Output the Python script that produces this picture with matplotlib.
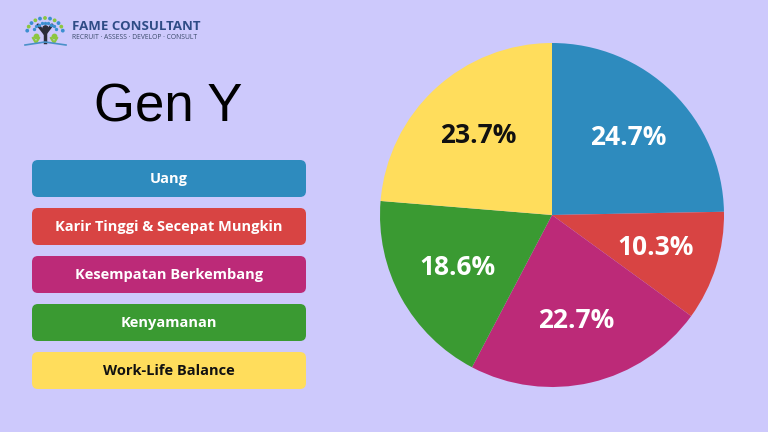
import matplotlib.pyplot as plt
from matplotlib.patches import FancyBboxPatch
import numpy as np

# data
categories = ['Uang', 'Karir Tinggi & Secepat Mungkin', 'Kesempatan Berkembang',
              'Kenyamanan', 'Work-Life Balance']
values = [24.7, 10.3, 22.7, 18.6, 23.7]
colors = ['#2E8BBE', '#D84443', '#BC2A78', '#3A9A32', '#FFDD5C']
text_colors = ['white', 'white', 'white', 'white', '#111111']

bg = '#CDC9FC'
W, H = 768, 432

fig = plt.figure(figsize=(7.68, 4.32), dpi=100)
fig.patch.set_facecolor(bg)

# pixel-space canvas for the left side
ax = fig.add_axes([0, 0, 1, 1])
ax.set_xlim(0, W)
ax.set_ylim(H, 0)
ax.axis('off')

# logo (rough)
ang = np.linspace(np.pi * 0.95, np.pi * 0.05, 11)
ax.scatter(45 + 18 * np.cos(ang), 33 - 15 * np.sin(ang), s=3,
           c=['#3C8FD0', '#8CC63F'] * 5 + ['#3C8FD0'], zorder=3)
ax.scatter(45 + 12 * np.cos(ang[1:-1]), 33 - 10 * np.sin(ang[1:-1]), s=2,
           c='#3C8FD0', zorder=3)
ax.plot([38, 45, 52], [25, 34, 25], color='#2D2D3A', lw=2.2, solid_capstyle='round')
ax.plot([45, 45], [31, 42], color='#2D2D3A', lw=2.5)
ax.scatter([45], [28], s=14, c='#2D2D3A', zorder=4)
ax.scatter([36, 54], [36, 36], s=10, c='#8CC63F', zorder=4)
ax.plot([33, 36, 39], [38, 43, 38], color='#8CC63F', lw=1.6)
ax.plot([51, 54, 57], [38, 43, 38], color='#8CC63F', lw=1.6)
ax.plot([25, 45, 66], [45, 42, 45], color='#4A90C8', lw=1.2)
ax.text(72, 27, 'FAME CONSULTANT', fontsize=9.5, fontweight='bold',
        family='Open Sans', color='#2F4C86', va='center', ha='left')
ax.text(72, 37.5, 'RECRUIT · ASSESS · DEVELOP · CONSULT', fontsize=4.9,
        family='Open Sans', color='#3A4A6A', va='center', ha='left')

# title
ax.text(168, 108, 'Gen Y', fontsize=38, family='Liberation Sans',
        color='black', ha='center', va='center')

# legend boxes
box_x, box_w, box_h = 32, 274, 37
top0, step = 160, 48
for i, (lab, col, tc) in enumerate(zip(categories, colors, text_colors)):
    y0 = top0 + i * step
    ax.add_patch(FancyBboxPatch((box_x, y0), box_w, box_h,
                                boxstyle='round,pad=0,rounding_size=6',
                                facecolor=col, edgecolor='none'))
    ax.text(box_x + box_w / 2, y0 + box_h / 2 + 0.5, lab, fontsize=10.5,
            fontweight='bold', family='Open Sans', color=tc,
            ha='center', va='center')

# pie
cx, cy, r = 552, 215, 172
pax = fig.add_axes([(cx - r) / W, (H - cy - r) / H, 2 * r / W, 2 * r / H])
wedges, texts, autotexts = pax.pie(values, colors=colors, startangle=90,
                                   counterclock=False, autopct='%.1f%%',
                                   pctdistance=0.63,
                                   wedgeprops=dict(linewidth=0))
for t, tc in zip(autotexts, text_colors):
    t.set_color(tc)
    t.set_fontsize(19)
    t.set_fontweight('bold')
    t.set_family('Open Sans')
pax.set_xlim(-1, 1)
pax.set_ylim(-1, 1)
pax.axis('off')

fig.savefig('out.png', dpi=100, facecolor=bg)
